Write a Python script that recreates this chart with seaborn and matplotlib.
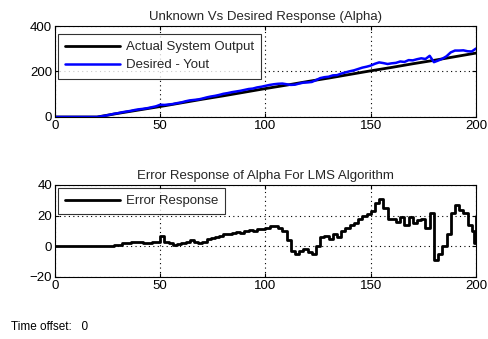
import numpy as np
import pandas as pd
import matplotlib
matplotlib.use("Agg")
import matplotlib.pyplot as plt
import seaborn as sns

# ---------------- data ----------------
actual_t = [0, 10, 20, 30, 40, 50, 60, 70, 80, 90, 100, 110, 120, 130, 140,
            150, 160, 170, 180, 190, 200]
actual_y = [0, 0, 0, 16, 31, 46, 62, 78, 93, 109, 125, 140, 156, 171, 187,
            203, 218, 234, 249, 265, 281]

desired_t = list(range(0, 201, 2))
desired_y = [0, 0, 0, 0, 0, 0, 0, 0, 0, 0, 0,
             3, 6, 10, 14, 17, 21, 24, 27, 31, 34,
             36, 39, 43, 47, 54, 53, 55, 57, 61, 64,
             69, 73, 75, 77, 81, 86, 90, 93, 97, 102,
             105, 109, 112, 115, 119, 123, 125, 130, 133, 137,
             141, 144, 146, 147, 144, 141, 142, 147, 151, 152,
             154, 162, 171, 175, 177, 183, 184, 191, 196, 201,
             205, 211, 217, 221, 226, 234, 240, 237, 233, 236,
             238, 244, 242, 250, 249, 254, 258, 255, 269, 241,
             248, 256, 267, 284, 292, 292, 293, 289, 288, 301]

error_t = list(range(0, 200, 2)) + [199, 200]
error_y = [0, 0, 0, 0, 0, 0, 0, 0, 0, 0, 0, 0, 0,
           0.5, 1, 1, 2, 2, 2.5, 3, 2.5, 2, 2, 2.5, 3, 7, 3, 2, 1, 1.5, 2,
           3, 4, 3, 2, 3, 5, 5.5, 6, 7, 8, 8, 9, 9.5, 9, 10, 10.5, 10, 11, 11.5, 12,
           13, 13.5, 12, 10, 4, -3, -5, -3, -2, -4, -5, 0, 6, 7, 5, 8, 6, 10, 12, 14,
           15, 18, 20, 21, 23, 28, 31, 25, 18, 18, 16, 19, 14, 19, 15, 17, 18, 12, 22, -9,
           -5, 0, 8, 22, 27, 24, 22, 14, 10, 2, 20]

x_ticks = [0, 50, 100, 150, 200]
top_yticks = [0, 200, 400]
bot_yticks = [-20, 0, 20, 40]

# ---------------- style ----------------
sns.set_theme(style="white")
plt.rcParams["font.family"] = ["Liberation Sans", "DejaVu Sans"]

fig = plt.figure(figsize=(4.88, 3.39), dpi=100)
fig.patch.set_facecolor("white")

ax1 = fig.add_axes([0.1127, 0.6549, 0.8627, 0.2684])
ax2 = fig.add_axes([0.1127, 0.1829, 0.8627, 0.2714])

df_a = pd.DataFrame({"t": actual_t, "y": actual_y})
df_d = pd.DataFrame({"t": desired_t, "y": desired_y})
df_e = pd.DataFrame({"t": error_t, "y": error_y})

sns.lineplot(data=df_a, x="t", y="y", ax=ax1, color="black", lw=2.0,
             label="Actual System Output")
sns.lineplot(data=df_d, x="t", y="y", ax=ax1, color="#0000ff", lw=1.8,
             label="Desired - Yout")
sns.lineplot(data=df_e, x="t", y="y", ax=ax2, color="black", lw=2.0,
             drawstyle="steps-post", label="Error Response")

ax1.set_xlim(0, 200)
ax1.set_ylim(0, 400)
ax1.set_yticks(top_yticks)
ax2.set_xlim(0, 200)
ax2.set_ylim(-20, 40)
ax2.set_yticks(bot_yticks)

ax1.set_title("Unknown Vs Desired Response (Alpha)", fontsize=9.5, pad=4)
ax2.set_title("Error Response of Alpha For LMS Algorithm", fontsize=9.5, pad=4)

for ax in (ax1, ax2):
    ax.set_xticks(x_ticks)
    ax.set_xlabel("")
    ax.set_ylabel("")
    ax.grid(True, color="black", linestyle=(0, (1, 3)), linewidth=0.8)
    ax.set_axisbelow(True)
    ax.tick_params(direction="in", length=3, width=0.8, labelsize=9.5,
                   colors="black", top=True, right=True, pad=2,
                   bottom=True, left=True)
    for s in ax.spines.values():
        s.set_visible(True)
        s.set_color("black")
        s.set_linewidth(0.8)
    ax.set_facecolor("white")

leg1 = ax1.legend(loc="upper left", bbox_to_anchor=(0.0, 0.945), fontsize=9.5,
                  frameon=True, fancybox=False, edgecolor="black",
                  handlelength=4.2, borderpad=0.55, labelspacing=0.45,
                  handletextpad=0.4, borderaxespad=0.2)
leg1.get_frame().set_linewidth(0.8)
leg2 = ax2.legend(loc="upper left", bbox_to_anchor=(0.0, 1.0), fontsize=9.5,
                  frameon=True, fancybox=False, edgecolor="black",
                  handlelength=4.2, borderpad=0.55, handletextpad=0.4,
                  borderaxespad=0.2)
leg2.get_frame().set_linewidth(0.8)

fig.text(0.022, 0.028, "Time offset:   0", fontsize=8.5, color="black")

fig.savefig("out.png", dpi=100, facecolor="white")
